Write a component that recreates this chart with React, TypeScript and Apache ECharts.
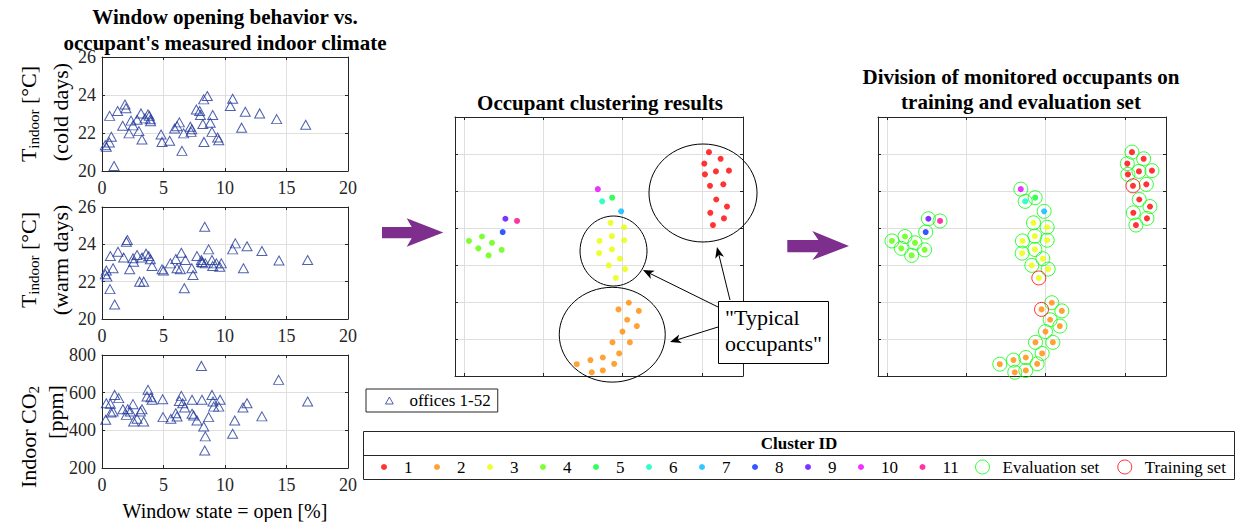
import React, { useEffect, useRef } from "react";
import * as echarts from "echarts";

const FONT = '"Liberation Serif", "Times New Roman", "DejaVu Serif", serif';
const INK = "#262626";
const GRID_COLOR = "#dfdfdf";
const OFFICE_BLUE = "#22389a";
const ARROW_PURPLE = "#7e2f8e";

// ---------- left panels: window opening vs indoor climate ----------
const windowTicks = [0, 5, 10, 15, 20];
const tempTicks = [20, 22, 24, 26];
const co2Ticks = [200, 400, 600, 800];

const coldDays = [
  [0.27, 21.36], [0.35, 21.27], [0.62, 22.9], [0.76, 21.8], [0.6, 21.5], [0.98, 20.26],
  [1.27, 23.16], [1.68, 22.38], [1.87, 23.5], [1.95, 23.3], [2.2, 21.98], [2.36, 22.65],
  [2.52, 22.4], [2.85, 22.7], [3.0, 22.1], [3.17, 23.03], [3.25, 21.66], [3.5, 22.77],
  [3.74, 22.98], [3.85, 22.9], [3.93, 22.72], [3.95, 22.62], [4.8, 21.92], [4.88, 21.53],
  [5.5, 21.59], [5.9, 22.24], [6.1, 22.36], [6.29, 22.56], [6.5, 21.06], [6.64, 21.98],
  [7.18, 22.33], [7.24, 22.06], [7.3, 22.2], [7.67, 23.24], [7.94, 23.16], [8.0, 22.95],
  [8.2, 22.47], [8.27, 23.77], [8.29, 21.53], [8.56, 23.95], [8.8, 22.54], [8.94, 22.06],
  [9.0, 22.95], [9.4, 21.76], [9.49, 21.62], [10.43, 23.42], [10.62, 23.8], [11.35, 22.28],
  [11.65, 23.12], [12.82, 23.03], [14.2, 22.73], [16.56, 22.43],
];

const warmDays = [
  [0.27, 22.4], [0.35, 22.6], [0.4, 22.27], [0.65, 21.6], [0.68, 23.37], [0.9, 22.72],
  [1.03, 20.78], [1.3, 23.6], [1.76, 23.29], [1.98, 24.14], [2.06, 24.23], [2.25, 22.66],
  [2.52, 23.25], [2.57, 23.07], [2.85, 23.43], [3.06, 22.0], [3.25, 23.29], [3.39, 22.0],
  [3.58, 23.5], [3.8, 23.37], [3.93, 23.2], [4.07, 22.84], [4.88, 22.66], [5.0, 22.6],
  [5.56, 22.98], [6.0, 23.21], [6.1, 22.72], [6.37, 22.66], [6.45, 23.55], [6.69, 21.65],
  [6.78, 23.16], [7.3, 22.72], [7.4, 22.36], [7.72, 23.37], [8.08, 23.16], [8.1, 23.05],
  [8.18, 23.02], [8.35, 24.94], [8.4, 22.98], [8.67, 23.73], [8.94, 23.16], [9.0, 22.84],
  [9.3, 22.98], [9.57, 22.8], [9.7, 22.98], [10.62, 23.73], [10.84, 24.05], [11.5, 22.72],
  [11.79, 23.9], [13.0, 23.64], [14.39, 23.13], [16.72, 23.16],
];

const co2Levels = [
  [0.3, 456], [0.35, 544], [0.68, 541], [0.73, 495], [0.9, 500], [1.03, 588], [1.36, 571],
  [1.7, 512], [1.98, 482], [2.09, 512], [2.3, 500], [2.52, 539], [2.57, 447], [2.85, 461],
  [3.12, 500], [3.25, 512], [3.39, 447], [3.74, 615], [3.66, 580], [3.98, 576], [4.07, 562],
  [4.93, 565], [4.96, 470], [5.6, 461], [6.0, 491], [6.1, 473], [6.29, 556], [6.45, 583],
  [6.56, 544], [6.72, 521], [7.32, 562], [7.32, 488], [7.45, 479], [7.72, 452], [8.08, 742],
  [8.13, 562], [8.27, 420], [8.4, 368], [8.35, 293], [8.67, 470], [8.94, 588], [9.02, 553],
  [9.08, 526], [9.49, 526], [9.6, 562], [10.62, 382], [10.79, 452], [11.46, 521],
  [11.79, 544], [13.0, 474], [14.36, 668], [16.72, 553],
];

// ---------- clustering panels ----------
const clusterXTicks = [0, 1, 2, 3];
const clusterXExtent = [-0.113, 3.517];
const clusterYTicks = [0, 1, 2, 3, 4, 5, 6, 7];

const cluster1 = [
  [3.088, 6.05], [3.235, 5.87], [3.029, 5.74], [3.037, 5.45], [3.176, 5.53], [3.34, 5.55],
  [3.101, 5.14], [3.269, 5.18], [3.18, 4.77], [3.315, 4.58], [3.105, 4.41], [3.277, 4.26],
  [3.138, 4.08],
];
const cluster2 = [
  [2.078, 1.98], [2.204, 1.76], [1.948, 1.8], [2.057, 1.52], [2.179, 1.35], [1.998, 1.2],
  [1.872, 0.91], [2.091, 0.91], [1.956, 0.61], [1.75, 0.5], [1.594, 0.43], [1.422, 0.32],
  [1.893, 0.33], [1.611, 0.1], [1.75, 0.15],
];
const cluster3 = [
  [1.847, 4.14], [2.019, 4.02], [1.708, 3.65], [1.864, 3.78], [2.019, 3.67], [1.704, 3.32],
  [1.864, 3.42], [1.965, 3.17], [1.826, 2.99], [2.032, 2.89], [1.914, 2.65],
];
const cluster4 = [[0.063, 3.65], [0.227, 3.77], [0.353, 3.6], [0.181, 3.45], [0.475, 3.41], [0.311, 3.26]];
const cluster5 = [[1.868, 4.82]];
const cluster6 = [[1.742, 4.72]];
const cluster7 = [[1.981, 4.45]];
const cluster8 = [[0.488, 3.89]];
const cluster9 = [[0.522, 4.25]];
const cluster10 = [[1.687, 5.05]];
const cluster11 = [[0.669, 4.19]];

const clusterNames = ["1", "2", "3", "4", "5", "6", "7", "8", "9", "10", "11"];
const clusterColors = [
  "#ff0000", "#ff8b00", "#e8ff00", "#5dff00", "#00ff2e", "#00ffb9",
  "#00b9ff", "#002eff", "#5d00ff", "#e800ff", "#ff008b",
];
const clusters = [cluster1, cluster2, cluster3, cluster4, cluster5, cluster6, cluster7, cluster8, cluster9, cluster10, cluster11];

// [cluster index, point index] of the offices in the training set
const trainingSet = [[0, 6], [1, 2], [2, 10]];

// "typical occupants" ellipses: [cx, cy, rx, ry] in data units
const typicalEllipses = [
  [3.013, 4.946, 0.681, 1.324],
  [1.885, 3.378, 0.422, 0.946],
  [1.869, 1.116, 0.668, 1.281],
];
// callout arrows: [x1, y1, x2(tip), y2(tip)] in data units
const calloutArrows = [
  [3.353, 2.054, 3.189, 3.486],
  [3.202, 1.865, 2.256, 2.865],
  [3.202, 1.324, 2.597, 0.919],
];

const trianglePath = "path://M5,0 L10,9 L0,9 Z";

function tickRange(ticks: number[]) {
  return { min: ticks[0], max: ticks[ticks.length - 1], interval: ticks[1] - ticks[0] };
}

function axisPair(dim: "x" | "y", gridIndex: number, range: any, showLabels: boolean) {
  const main: any = {
    type: "value",
    gridIndex,
    ...range,
    position: dim === "x" ? "bottom" : "left",
    axisLine: { show: true, onZero: false, lineStyle: { color: INK, width: 1 } },
    axisTick: { show: true, inside: true, length: 3, lineStyle: { color: INK, width: 1 } },
    axisLabel: showLabels
      ? { show: true, fontFamily: FONT, fontSize: 18, color: INK, margin: dim === "x" ? 8 : 6 }
      : { show: false },
    splitLine: { show: true, lineStyle: { color: GRID_COLOR, width: 1 } },
  };
  const mirror: any = {
    ...main,
    position: dim === "x" ? "top" : "right",
    axisLabel: { show: false },
    splitLine: { show: false },
  };
  return [main, mirror];
}

function arrowPolygon(pts: number[][]) {
  return { type: "polygon", z: 100, shape: { points: pts }, style: { fill: ARROW_PURPLE } };
}

export default function App() {
  const ref = useRef<HTMLDivElement>(null);

  useEffect(() => {
    if (!ref.current) return;
    const chart = echarts.init(ref.current, null, { renderer: "svg" });

    const leftX = tickRange(windowTicks);
    const clusterX = { min: clusterXExtent[0], max: clusterXExtent[1], minInterval: clusterXTicks[1] - clusterXTicks[0], maxInterval: clusterXTicks[1] - clusterXTicks[0] };
    const clusterY = tickRange(clusterYTicks);

    const grids = [
      { left: 102, top: 57, width: 246, height: 114 },
      { left: 102, top: 207, width: 246, height: 112 },
      { left: 102, top: 355, width: 246, height: 113 },
      { left: 455, top: 117, width: 288, height: 259 },
      { left: 878, top: 117, width: 288, height: 259 },
    ].map((g) => ({ ...g, containLabel: false, outerBoundsMode: "none" }));

    const xAxis = [
      ...axisPair("x", 0, leftX, true),
      ...axisPair("x", 1, leftX, true),
      ...axisPair("x", 2, leftX, true),
      ...axisPair("x", 3, clusterX, false),
      ...axisPair("x", 4, clusterX, false),
    ];
    const yAxis = [
      ...axisPair("y", 0, tickRange(tempTicks), true),
      ...axisPair("y", 1, tickRange(tempTicks), true),
      ...axisPair("y", 2, tickRange(co2Ticks), true),
      ...axisPair("y", 3, clusterY, false),
      ...axisPair("y", 4, clusterY, false),
    ];

    const officeSeries = [coldDays, warmDays, co2Levels].map((data, g) => ({
      type: "scatter",
      name: "offices 1-52",
      xAxisIndex: 2 * g,
      yAxisIndex: 2 * g,
      data,
      symbol: "triangle",
      symbolSize: [10, 9],
      itemStyle: { color: "rgba(0,0,0,0)", borderColor: OFFICE_BLUE, borderWidth: 1 },
      silent: true,
    }));

    const clusterSeries = (axisIdx: number) =>
      clusters.map((pts, i) => ({
        type: "scatter",
        name: clusterNames[i],
        xAxisIndex: axisIdx,
        yAxisIndex: axisIdx,
        data: pts,
        symbol: "circle",
        symbolSize: 6,
        itemStyle: { color: clusterColors[i] },
        silent: true,
        z: 3,
      }));

    const isTraining = (c: number, p: number) => trainingSet.some((t) => t[0] === c && t[1] === p);
    const evaluationPoints: number[][] = [];
    const trainingPoints: number[][] = [];
    clusters.forEach((pts, c) =>
      pts.forEach((pt, p) => (isTraining(c, p) ? trainingPoints : evaluationPoints).push(pt))
    );

    const ringSeries = [
      { name: "Evaluation set", data: evaluationPoints, color: "#00ff00" },
      { name: "Training set", data: trainingPoints, color: "#ff0000" },
    ].map((s) => ({
      type: "scatter",
      name: s.name,
      xAxisIndex: 8,
      yAxisIndex: 8,
      data: s.data,
      symbol: "circle",
      symbolSize: 14,
      itemStyle: { color: "rgba(0,0,0,0)", borderColor: s.color, borderWidth: 1 },
      silent: true,
      z: 4,
    }));

    const ellipseSeries = {
      type: "custom",
      name: "typical",
      xAxisIndex: 6,
      yAxisIndex: 6,
      clip: false,
      silent: true,
      z: 5,
      data: typicalEllipses,
      renderItem: (_p: any, api: any) => {
        const c = api.coord([api.value(0), api.value(1)]);
        const s = api.size([api.value(2), api.value(3)]);
        return {
          type: "ellipse",
          shape: { cx: c[0], cy: c[1], rx: s[0], ry: s[1] },
          style: { fill: "none", stroke: "#000", lineWidth: 1 },
        };
      },
    };

    const calloutSeries = {
      type: "custom",
      name: "callouts",
      xAxisIndex: 6,
      yAxisIndex: 6,
      clip: false,
      silent: true,
      z: 6,
      data: calloutArrows,
      renderItem: (_p: any, api: any) => {
        const a = api.coord([api.value(0), api.value(1)]);
        const b = api.coord([api.value(2), api.value(3)]);
        const dx = b[0] - a[0];
        const dy = b[1] - a[1];
        const len = Math.hypot(dx, dy) || 1;
        const ux = dx / len;
        const uy = dy / len;
        const nx = -uy;
        const ny = ux;
        const L = 11;
        const W = 4.5;
        const notch = 3;
        const bx = b[0] - ux * L;
        const by = b[1] - uy * L;
        const ix = b[0] - ux * (L - notch);
        const iy = b[1] - uy * (L - notch);
        return {
          type: "group",
          children: [
            { type: "line", shape: { x1: a[0], y1: a[1], x2: ix, y2: iy }, style: { stroke: "#000", lineWidth: 1 } },
            {
              type: "polygon",
              shape: { points: [[b[0], b[1]], [bx + nx * W, by + ny * W], [ix, iy], [bx - nx * W, by - ny * W]] },
              style: { fill: "#000" },
            },
          ],
        };
      },
    };

    const yTitleRich = {
      m: { fontFamily: FONT, fontSize: 22, fill: "#000", color: "#000", lineHeight: 26 },
      s: { fontFamily: FONT, fontSize: 15, fill: "#000", color: "#000", lineHeight: 15, verticalAlign: "bottom", padding: [20, 0, 0, 0] },
    };
    const rotText = (x: number, y: number, text: string, rich?: any) => ({
      type: "text",
      x,
      y,
      rotation: Math.PI / 2,
      silent: true,
      style: {
        text,
        fontFamily: FONT,
        fontSize: 22,
        fill: "#000",
        align: "center",
        verticalAlign: "middle",
        rich,
      },
    });

    const graphic: any[] = [
      {
        type: "text", x: 225, y: 30, silent: true,
        style: { text: "Window opening behavior vs.\noccupant's measured indoor climate", fontFamily: FONT, fontWeight: "bold", fontSize: 21, lineHeight: 26, fill: "#000", align: "center", verticalAlign: "middle" },
      },
      {
        type: "text", x: 600, y: 103, silent: true,
        style: { text: "Occupant clustering results", fontFamily: FONT, fontWeight: "bold", fontSize: 21, fill: "#000", align: "center", verticalAlign: "middle" },
      },
      {
        type: "text", x: 1021, y: 89.5, silent: true,
        style: { text: "Division of monitored occupants on\ntraining and evaluation set", fontFamily: FONT, fontWeight: "bold", fontSize: 21, lineHeight: 25, fill: "#000", align: "center", verticalAlign: "middle" },
      },
      rotText(28, 114, "{m|T}{s|indoor}{m| [°C]}", yTitleRich),
      rotText(60, 112, "(cold days)"),
      rotText(28, 260, "{m|T}{s|indoor}{m| [°C]}", yTitleRich),
      rotText(60, 260, "(warm days)"),
      rotText(28, 437, "{m|Indoor CO}{s|2}", yTitleRich),
      rotText(55, 412, "[ppm]"),
      {
        type: "text", x: 225, y: 511, silent: true,
        style: { text: "Window state = open [%]", fontFamily: FONT, fontSize: 20, fill: "#000", align: "center", verticalAlign: "middle" },
      },
      arrowPolygon([[382, 227], [411.7, 227], [406.7, 218.3], [443.3, 232.5], [406.7, 246.7], [411.7, 238.3], [382, 238.3]]),
      arrowPolygon([[787.3, 240], [818.3, 240], [812.3, 231], [849, 246], [812.3, 260], [818.3, 252.3], [787.3, 252.3]]),
      {
        type: "rect", z: 100, silent: true,
        shape: { x: 718.5, y: 301.5, width: 110, height: 62 },
        style: { fill: "#fff", stroke: "#000", lineWidth: 1 },
      },
      {
        type: "text", x: 725, y: 330, z: 101, silent: true,
        style: { text: '"Typical\noccupants"', fontFamily: FONT, fontSize: 22, lineHeight: 26, fill: "#000", align: "left", verticalAlign: "middle" },
      },
      {
        type: "rect", z: 1, silent: true,
        shape: { x: 363.5, y: 431.5, width: 871, height: 48 },
        style: { fill: "#fff", stroke: INK, lineWidth: 1 },
      },
      {
        type: "line", z: 2, silent: true,
        shape: { x1: 363.5, y1: 455.5, x2: 1234.5, y2: 455.5 },
        style: { stroke: INK, lineWidth: 1 },
      },
      {
        type: "text", x: 799, y: 443, z: 2, silent: true,
        style: { text: "Cluster ID", fontFamily: FONT, fontWeight: "bold", fontSize: 17, fill: "#000", align: "center", verticalAlign: "middle" },
      },
    ];

    const legendText = { fontFamily: FONT, fontSize: 17, color: "#000" };

    chart.setOption({
      animation: false,
      backgroundColor: "#fff",
      grid: grids,
      xAxis,
      yAxis,
      legend: [
        {
          selectedMode: false,
          orient: "horizontal",
          left: 366,
          top: 389,
          padding: [3, 7, 3, 19],
          borderColor: INK,
          borderWidth: 1,
          backgroundColor: "#fff",
          itemWidth: 30,
          itemHeight: 7,
          symbolKeepAspect: true,
          textStyle: legendText,
          data: [
            { name: "offices 1-52", icon: trianglePath, itemStyle: { color: "rgba(0,0,0,0)", borderColor: OFFICE_BLUE, borderWidth: 1 } },
          ],
        },
        {
          selectedMode: false,
          orient: "horizontal",
          left: 381,
          top: 458.5,
          padding: 0,
          itemWidth: 30,
          itemHeight: 6,
          itemGap: 21.5,
          textStyle: legendText,
          data: clusterNames.map((n, i) => ({ name: n, icon: "circle", itemStyle: { color: clusterColors[i], borderWidth: 0 } })),
        },
        {
          selectedMode: false,
          orient: "horizontal",
          left: 975,
          top: 458.5,
          padding: 0,
          itemWidth: 30,
          itemHeight: 14,
          itemGap: 18,
          textStyle: legendText,
          data: [
            { name: "Evaluation set", icon: "circle", itemStyle: { color: "rgba(0,0,0,0)", borderColor: "#00ff00", borderWidth: 1 } },
            { name: "Training set", icon: "circle", itemStyle: { color: "rgba(0,0,0,0)", borderColor: "#ff0000", borderWidth: 1 } },
          ],
        },
      ],
      series: [
        ...officeSeries,
        ...clusterSeries(6),
        ...clusterSeries(8),
        ...ringSeries,
        ellipseSeries,
        calloutSeries,
      ],
      graphic,
    });

    return () => chart.dispose();
  }, []);

  return (
    <div
      ref={ref}
      style={{ position: "absolute", left: 0, top: 0, width: 1237, height: 522, background: "#fff" }}
    />
  );
}
